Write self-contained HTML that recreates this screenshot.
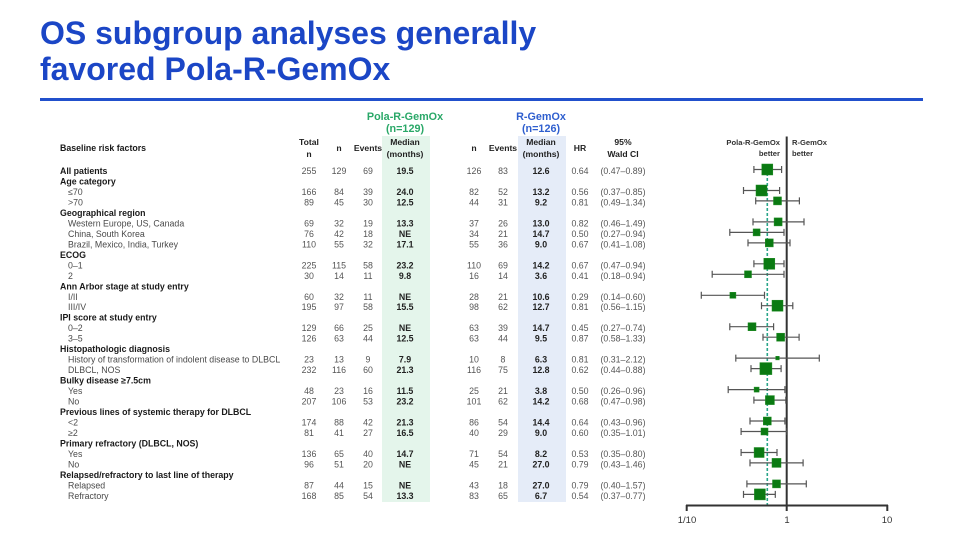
<!DOCTYPE html>
<html>
<head>
<meta charset="utf-8">
<style>
  html,body{margin:0;padding:0;background:#fff;}
  body{width:960px;height:539px;overflow:hidden;}
  svg{display:block;font-family:"Liberation Sans",Arial,sans-serif;}
  .h{font-weight:bold;fill:#1a1a1a;font-size:8.8px;}
  .s{fill:#4a4a4a;font-size:8.8px;}
  .n{fill:#555;font-size:8.8px;text-anchor:middle;}
  .m{fill:#222;font-size:8.8px;font-weight:bold;text-anchor:middle;}
  .ch{fill:#222;font-size:8.6px;font-weight:bold;text-anchor:middle;}
  .eb{stroke:#555;stroke-width:1.2;fill:none;}
  .sq{fill:#0a7a12;stroke:#1e8a22;stroke-width:0.5;}
</style>
</head>
<body>
<svg width="960" height="539" viewBox="0 0 960 539" xmlns="http://www.w3.org/2000/svg">
  <!-- Title -->
  <text x="40" y="44" font-size="32" font-weight="bold" fill="#1b46c6">OS subgroup analyses generally</text>
  <text x="40" y="80" font-size="32" font-weight="bold" fill="#1b46c6">favored Pola-R-GemOx</text>
  <line x1="40" y1="99.5" x2="923" y2="99.5" stroke="#2150cc" stroke-width="3"/>

  <!-- shaded columns -->
  <rect x="382" y="136" width="48" height="366" fill="#e4f5eb"/>
  <rect x="518" y="136" width="48" height="366" fill="#e5ecf8"/>

  <!-- group headers -->
  <text x="405" y="120" font-size="10.8" font-weight="bold" fill="#2aa868" text-anchor="middle">Pola-R-GemOx</text>
  <text x="405" y="132" font-size="10.8" font-weight="bold" fill="#2aa868" text-anchor="middle">(n=129)</text>
  <text x="541" y="120" font-size="10.8" font-weight="bold" fill="#2f5fcf" text-anchor="middle">R-GemOx</text>
  <text x="541" y="132" font-size="10.8" font-weight="bold" fill="#2f5fcf" text-anchor="middle">(n=126)</text>

  <!-- column headers -->
  <text x="60" y="151" class="h">Baseline risk factors</text>
  <text x="309" y="145" class="ch">Total</text>
  <text x="309" y="157" class="ch">n</text>
  <text x="339" y="151" class="ch">n</text>
  <text x="368" y="151" class="ch">Events</text>
  <text x="405" y="145" class="ch">Median</text>
  <text x="405" y="157" class="ch">(months)</text>
  <text x="474" y="151" class="ch">n</text>
  <text x="503" y="151" class="ch">Events</text>
  <text x="541" y="145" class="ch">Median</text>
  <text x="541" y="157" class="ch">(months)</text>
  <text x="580" y="151" class="ch">HR</text>
  <text x="623" y="145" class="ch">95%</text>
  <text x="623" y="157" class="ch">Wald CI</text>

  <!-- Labels -->
  <text x="60" y="174" class="h">All patients</text>
  <text x="60" y="184.5" class="h">Age category</text>
  <text x="68" y="195" class="s">≤70</text>
  <text x="68" y="205.4" class="s">&gt;70</text>
  <text x="60" y="215.9" class="h">Geographical region</text>
  <text x="68" y="226.4" class="s">Western Europe, US, Canada</text>
  <text x="68" y="236.9" class="s">China, South Korea</text>
  <text x="68" y="247.4" class="s">Brazil, Mexico, India, Turkey</text>
  <text x="60" y="257.8" class="h">ECOG</text>
  <text x="68" y="268.3" class="s">0–1</text>
  <text x="68" y="278.8" class="s">2</text>
  <text x="60" y="289.3" class="h">Ann Arbor stage at study entry</text>
  <text x="68" y="299.8" class="s">I/II</text>
  <text x="68" y="310.2" class="s">III/IV</text>
  <text x="60" y="320.7" class="h">IPI score at study entry</text>
  <text x="68" y="331.2" class="s">0–2</text>
  <text x="68" y="341.7" class="s">3–5</text>
  <text x="60" y="352.2" class="h">Histopathologic diagnosis</text>
  <text x="68" y="362.6" class="s">History of transformation of indolent disease to DLBCL</text>
  <text x="68" y="373.1" class="s">DLBCL, NOS</text>
  <text x="60" y="383.6" class="h">Bulky disease ≥7.5cm</text>
  <text x="68" y="394.1" class="s">Yes</text>
  <text x="68" y="404.6" class="s">No</text>
  <text x="60" y="415" class="h">Previous lines of systemic therapy for DLBCL</text>
  <text x="68" y="425.5" class="s">&lt;2</text>
  <text x="68" y="436" class="s">≥2</text>
  <text x="60" y="446.5" class="h">Primary refractory (DLBCL, NOS)</text>
  <text x="68" y="457" class="s">Yes</text>
  <text x="68" y="467.4" class="s">No</text>
  <text x="60" y="477.9" class="h">Relapsed/refractory to last line of therapy</text>
  <text x="68" y="488.4" class="s">Relapsed</text>
  <text x="68" y="498.9" class="s">Refractory</text>

  <!-- Data rows -->
  <g>
  <!-- row 0 -->
  <text x="309" y="174" class="n">255</text><text x="339" y="174" class="n">129</text><text x="368" y="174" class="n">69</text><text x="405" y="174" class="m">19.5</text><text x="474" y="174" class="n">126</text><text x="503" y="174" class="n">83</text><text x="541" y="174" class="m">12.6</text><text x="580" y="174" class="n">0.64</text><text x="623" y="174" class="n">(0.47–0.89)</text>
  <!-- row 2 -->
  <text x="309" y="195" class="n">166</text><text x="339" y="195" class="n">84</text><text x="368" y="195" class="n">39</text><text x="405" y="195" class="m">24.0</text><text x="474" y="195" class="n">82</text><text x="503" y="195" class="n">52</text><text x="541" y="195" class="m">13.2</text><text x="580" y="195" class="n">0.56</text><text x="623" y="195" class="n">(0.37–0.85)</text>
  <!-- row 3 -->
  <text x="309" y="205.4" class="n">89</text><text x="339" y="205.4" class="n">45</text><text x="368" y="205.4" class="n">30</text><text x="405" y="205.4" class="m">12.5</text><text x="474" y="205.4" class="n">44</text><text x="503" y="205.4" class="n">31</text><text x="541" y="205.4" class="m">9.2</text><text x="580" y="205.4" class="n">0.81</text><text x="623" y="205.4" class="n">(0.49–1.34)</text>
  <!-- row 5 -->
  <text x="309" y="226.4" class="n">69</text><text x="339" y="226.4" class="n">32</text><text x="368" y="226.4" class="n">19</text><text x="405" y="226.4" class="m">13.3</text><text x="474" y="226.4" class="n">37</text><text x="503" y="226.4" class="n">26</text><text x="541" y="226.4" class="m">13.0</text><text x="580" y="226.4" class="n">0.82</text><text x="623" y="226.4" class="n">(0.46–1.49)</text>
  <!-- row 6 -->
  <text x="309" y="236.9" class="n">76</text><text x="339" y="236.9" class="n">42</text><text x="368" y="236.9" class="n">18</text><text x="405" y="236.9" class="m">NE</text><text x="474" y="236.9" class="n">34</text><text x="503" y="236.9" class="n">21</text><text x="541" y="236.9" class="m">14.7</text><text x="580" y="236.9" class="n">0.50</text><text x="623" y="236.9" class="n">(0.27–0.94)</text>
  <!-- row 7 -->
  <text x="309" y="247.4" class="n">110</text><text x="339" y="247.4" class="n">55</text><text x="368" y="247.4" class="n">32</text><text x="405" y="247.4" class="m">17.1</text><text x="474" y="247.4" class="n">55</text><text x="503" y="247.4" class="n">36</text><text x="541" y="247.4" class="m">9.0</text><text x="580" y="247.4" class="n">0.67</text><text x="623" y="247.4" class="n">(0.41–1.08)</text>
  <!-- row 9 -->
  <text x="309" y="268.3" class="n">225</text><text x="339" y="268.3" class="n">115</text><text x="368" y="268.3" class="n">58</text><text x="405" y="268.3" class="m">23.2</text><text x="474" y="268.3" class="n">110</text><text x="503" y="268.3" class="n">69</text><text x="541" y="268.3" class="m">14.2</text><text x="580" y="268.3" class="n">0.67</text><text x="623" y="268.3" class="n">(0.47–0.94)</text>
  <!-- row 10 -->
  <text x="309" y="278.8" class="n">30</text><text x="339" y="278.8" class="n">14</text><text x="368" y="278.8" class="n">11</text><text x="405" y="278.8" class="m">9.8</text><text x="474" y="278.8" class="n">16</text><text x="503" y="278.8" class="n">14</text><text x="541" y="278.8" class="m">3.6</text><text x="580" y="278.8" class="n">0.41</text><text x="623" y="278.8" class="n">(0.18–0.94)</text>
  <!-- row 12 -->
  <text x="309" y="299.8" class="n">60</text><text x="339" y="299.8" class="n">32</text><text x="368" y="299.8" class="n">11</text><text x="405" y="299.8" class="m">NE</text><text x="474" y="299.8" class="n">28</text><text x="503" y="299.8" class="n">21</text><text x="541" y="299.8" class="m">10.6</text><text x="580" y="299.8" class="n">0.29</text><text x="623" y="299.8" class="n">(0.14–0.60)</text>
  <!-- row 13 -->
  <text x="309" y="310.2" class="n">195</text><text x="339" y="310.2" class="n">97</text><text x="368" y="310.2" class="n">58</text><text x="405" y="310.2" class="m">15.5</text><text x="474" y="310.2" class="n">98</text><text x="503" y="310.2" class="n">62</text><text x="541" y="310.2" class="m">12.7</text><text x="580" y="310.2" class="n">0.81</text><text x="623" y="310.2" class="n">(0.56–1.15)</text>
  <!-- row 15 -->
  <text x="309" y="331.2" class="n">129</text><text x="339" y="331.2" class="n">66</text><text x="368" y="331.2" class="n">25</text><text x="405" y="331.2" class="m">NE</text><text x="474" y="331.2" class="n">63</text><text x="503" y="331.2" class="n">39</text><text x="541" y="331.2" class="m">14.7</text><text x="580" y="331.2" class="n">0.45</text><text x="623" y="331.2" class="n">(0.27–0.74)</text>
  <!-- row 16 -->
  <text x="309" y="341.7" class="n">126</text><text x="339" y="341.7" class="n">63</text><text x="368" y="341.7" class="n">44</text><text x="405" y="341.7" class="m">12.5</text><text x="474" y="341.7" class="n">63</text><text x="503" y="341.7" class="n">44</text><text x="541" y="341.7" class="m">9.5</text><text x="580" y="341.7" class="n">0.87</text><text x="623" y="341.7" class="n">(0.58–1.33)</text>
  <!-- row 18 -->
  <text x="309" y="362.6" class="n">23</text><text x="339" y="362.6" class="n">13</text><text x="368" y="362.6" class="n">9</text><text x="405" y="362.6" class="m">7.9</text><text x="474" y="362.6" class="n">10</text><text x="503" y="362.6" class="n">8</text><text x="541" y="362.6" class="m">6.3</text><text x="580" y="362.6" class="n">0.81</text><text x="623" y="362.6" class="n">(0.31–2.12)</text>
  <!-- row 19 -->
  <text x="309" y="373.1" class="n">232</text><text x="339" y="373.1" class="n">116</text><text x="368" y="373.1" class="n">60</text><text x="405" y="373.1" class="m">21.3</text><text x="474" y="373.1" class="n">116</text><text x="503" y="373.1" class="n">75</text><text x="541" y="373.1" class="m">12.8</text><text x="580" y="373.1" class="n">0.62</text><text x="623" y="373.1" class="n">(0.44–0.88)</text>
  <!-- row 21 -->
  <text x="309" y="394.1" class="n">48</text><text x="339" y="394.1" class="n">23</text><text x="368" y="394.1" class="n">16</text><text x="405" y="394.1" class="m">11.5</text><text x="474" y="394.1" class="n">25</text><text x="503" y="394.1" class="n">21</text><text x="541" y="394.1" class="m">3.8</text><text x="580" y="394.1" class="n">0.50</text><text x="623" y="394.1" class="n">(0.26–0.96)</text>
  <!-- row 22 -->
  <text x="309" y="404.6" class="n">207</text><text x="339" y="404.6" class="n">106</text><text x="368" y="404.6" class="n">53</text><text x="405" y="404.6" class="m">23.2</text><text x="474" y="404.6" class="n">101</text><text x="503" y="404.6" class="n">62</text><text x="541" y="404.6" class="m">14.2</text><text x="580" y="404.6" class="n">0.68</text><text x="623" y="404.6" class="n">(0.47–0.98)</text>
  <!-- row 24 -->
  <text x="309" y="425.5" class="n">174</text><text x="339" y="425.5" class="n">88</text><text x="368" y="425.5" class="n">42</text><text x="405" y="425.5" class="m">21.3</text><text x="474" y="425.5" class="n">86</text><text x="503" y="425.5" class="n">54</text><text x="541" y="425.5" class="m">14.4</text><text x="580" y="425.5" class="n">0.64</text><text x="623" y="425.5" class="n">(0.43–0.96)</text>
  <!-- row 25 -->
  <text x="309" y="436" class="n">81</text><text x="339" y="436" class="n">41</text><text x="368" y="436" class="n">27</text><text x="405" y="436" class="m">16.5</text><text x="474" y="436" class="n">40</text><text x="503" y="436" class="n">29</text><text x="541" y="436" class="m">9.0</text><text x="580" y="436" class="n">0.60</text><text x="623" y="436" class="n">(0.35–1.01)</text>
  <!-- row 27 -->
  <text x="309" y="457" class="n">136</text><text x="339" y="457" class="n">65</text><text x="368" y="457" class="n">40</text><text x="405" y="457" class="m">14.7</text><text x="474" y="457" class="n">71</text><text x="503" y="457" class="n">54</text><text x="541" y="457" class="m">8.2</text><text x="580" y="457" class="n">0.53</text><text x="623" y="457" class="n">(0.35–0.80)</text>
  <!-- row 28 -->
  <text x="309" y="467.4" class="n">96</text><text x="339" y="467.4" class="n">51</text><text x="368" y="467.4" class="n">20</text><text x="405" y="467.4" class="m">NE</text><text x="474" y="467.4" class="n">45</text><text x="503" y="467.4" class="n">21</text><text x="541" y="467.4" class="m">27.0</text><text x="580" y="467.4" class="n">0.79</text><text x="623" y="467.4" class="n">(0.43–1.46)</text>
  <!-- row 30 -->
  <text x="309" y="488.4" class="n">87</text><text x="339" y="488.4" class="n">44</text><text x="368" y="488.4" class="n">15</text><text x="405" y="488.4" class="m">NE</text><text x="474" y="488.4" class="n">43</text><text x="503" y="488.4" class="n">18</text><text x="541" y="488.4" class="m">27.0</text><text x="580" y="488.4" class="n">0.79</text><text x="623" y="488.4" class="n">(0.40–1.57)</text>
  <!-- row 31 -->
  <text x="309" y="498.9" class="n">168</text><text x="339" y="498.9" class="n">85</text><text x="368" y="498.9" class="n">54</text><text x="405" y="498.9" class="m">13.3</text><text x="474" y="498.9" class="n">83</text><text x="503" y="498.9" class="n">65</text><text x="541" y="498.9" class="m">6.7</text><text x="580" y="498.9" class="n">0.54</text><text x="623" y="498.9" class="n">(0.37–0.77)</text>
  </g>

  <!-- Forest plot -->
  <text x="780" y="145" font-size="7.6" font-weight="bold" fill="#333" text-anchor="end">Pola-R-GemOx</text>
  <text x="780" y="156" font-size="7.6" font-weight="bold" fill="#333" text-anchor="end">better</text>
  <text x="792" y="145" font-size="7.6" font-weight="bold" fill="#333">R-GemOx</text>
  <text x="792" y="156" font-size="7.6" font-weight="bold" fill="#333">better</text>

  <line x1="786.7" y1="136.5" x2="786.7" y2="505.5" stroke="#333" stroke-width="2"/>
  <line x1="767.3" y1="173" x2="767.3" y2="505" stroke="#2aa58a" stroke-width="1.6" stroke-dasharray="3,2"/>

  <!-- axis -->
  <line x1="686" y1="505.5" x2="888" y2="505.5" stroke="#333" stroke-width="2"/>
  <line x1="686.7" y1="505" x2="686.7" y2="511" stroke="#333" stroke-width="2"/>
  <line x1="786.7" y1="505" x2="786.7" y2="511" stroke="#333" stroke-width="2"/>
  <line x1="887.3" y1="505" x2="887.3" y2="511" stroke="#333" stroke-width="2"/>
  <text x="687" y="523" font-size="9.5" fill="#333" text-anchor="middle">1/10</text>
  <text x="787" y="523" font-size="9.5" fill="#333" text-anchor="middle">1</text>
  <text x="887" y="523" font-size="9.5" fill="#333" text-anchor="middle">10</text>

  <!-- error bars & squares -->
  <g class="eb">
    <path d="M753.9 169.5H781.6M753.9 166V173M781.6 166V173"/>
    <path d="M743.5 190.5H779.6M743.5 187V194M779.6 187V194"/>
    <path d="M755.7 200.9H799.4M755.7 197.4V204.4M799.4 197.4V204.4"/>
    <path d="M753.0 221.9H804.0M753.0 218.4V225.4M804.0 218.4V225.4"/>
    <path d="M729.8 232.4H784.0M729.8 228.9V235.9M784.0 228.9V235.9"/>
    <path d="M748.0 242.9H790.0M748.0 239.4V246.4M790.0 239.4V246.4"/>
    <path d="M753.9 263.8H784.0M753.9 260.3V267.3M784.0 260.3V267.3"/>
    <path d="M712.2 274.3H784.0M712.2 270.8V277.8M784.0 270.8V277.8"/>
    <path d="M701.3 295.3H764.5M701.3 291.8V298.8M764.5 291.8V298.8"/>
    <path d="M761.5 305.7H792.8M761.5 302.2V309.2M792.8 302.2V309.2"/>
    <path d="M729.8 326.7H773.6M729.8 323.2V330.2M773.6 323.2V330.2"/>
    <path d="M763.0 337.2H799.1M763.0 333.7V340.7M799.1 333.7V340.7"/>
    <path d="M735.8 358.1H819.3M735.8 354.6V361.6M819.3 354.6V361.6"/>
    <path d="M751.0 368.6H781.1M751.0 365.1V372.1M781.1 365.1V372.1"/>
    <path d="M728.2 389.6H784.9M728.2 386.1V393.1M784.9 386.1V393.1"/>
    <path d="M753.9 400.1H785.8M753.9 396.6V403.6M785.8 396.6V403.6"/>
    <path d="M750.0 421.0H784.9M750.0 417.5V424.5M784.9 417.5V424.5"/>
    <path d="M741.1 431.5H787.1M741.1 428V435M787.1 428V435"/>
    <path d="M741.1 452.5H777.0M741.1 449V456M777.0 449V456"/>
    <path d="M750.0 462.9H803.1M750.0 459.4V466.4M803.1 459.4V466.4"/>
    <path d="M746.9 483.9H806.3M746.9 480.4V487.4M806.3 480.4V487.4"/>
    <path d="M743.5 494.4H775.3M743.5 490.9V497.9M775.3 490.9V497.9"/>
  </g>
  <g class="sq">
    <rect x="761.8" y="164" width="11" height="11"/>
    <rect x="756" y="185" width="11" height="11"/>
    <rect x="773.5" y="196.9" width="8" height="8"/>
    <rect x="774.1" y="217.9" width="8" height="8"/>
    <rect x="753.1" y="228.9" width="7" height="7"/>
    <rect x="765.3" y="238.9" width="8" height="8"/>
    <rect x="763.8" y="258.3" width="11" height="11"/>
    <rect x="744.5" y="270.8" width="7" height="7"/>
    <rect x="729.9" y="292.3" width="6" height="6"/>
    <rect x="772" y="300.2" width="11" height="11"/>
    <rect x="748" y="322.7" width="8" height="8"/>
    <rect x="776.6" y="333.2" width="8" height="8"/>
    <rect x="775.7" y="356.3" width="3.6" height="3.6"/>
    <rect x="759.9" y="362.6" width="12" height="12"/>
    <rect x="754.1" y="387.1" width="5" height="5"/>
    <rect x="765.4" y="395.6" width="9" height="9"/>
    <rect x="763.3" y="417" width="8" height="8"/>
    <rect x="761" y="428" width="7" height="7"/>
    <rect x="754.1" y="447.5" width="10" height="10"/>
    <rect x="772" y="458.4" width="9" height="9"/>
    <rect x="772.5" y="479.9" width="8" height="8"/>
    <rect x="754.4" y="488.9" width="11" height="11"/>
  </g>
</svg>
</body>
</html>
